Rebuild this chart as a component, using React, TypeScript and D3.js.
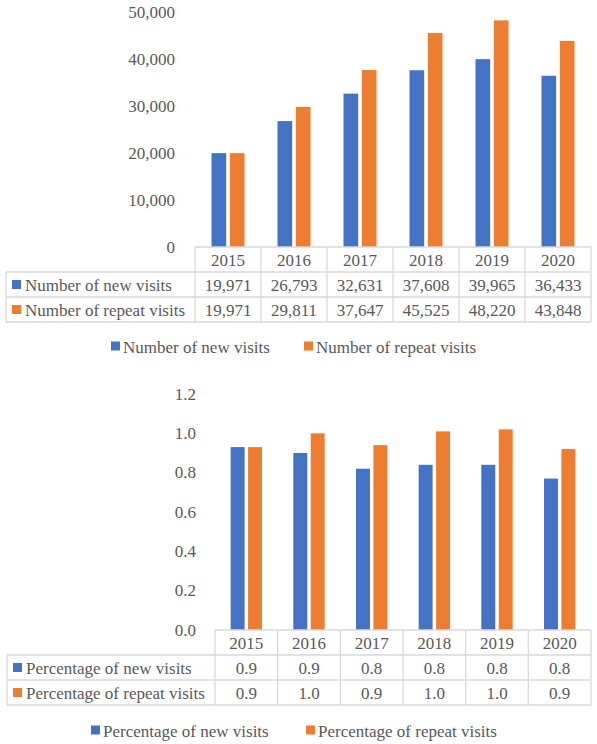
import React from "react";
import * as d3 from "d3";

const years = ["2015", "2016", "2017", "2018", "2019", "2020"];
const newVisits = [19971, 26793, 32631, 37608, 39965, 36433];
const repeatVisits = [19971, 29811, 37647, 45525, 48220, 43848];
const countTicks = [0, 10000, 20000, 30000, 40000, 50000];
const countSeries = ["Number of new visits", "Number of repeat visits"];

const pctNew = [0.93, 0.9, 0.82, 0.84, 0.84, 0.77];
const pctRepeat = [0.93, 1.0, 0.94, 1.01, 1.02, 0.92];
const pctNewLabels = ["0.9", "0.9", "0.8", "0.8", "0.8", "0.8"];
const pctRepeatLabels = ["0.9", "1.0", "0.9", "1.0", "1.0", "0.9"];
const pctTicks = [0, 0.2, 0.4, 0.6, 0.8, 1.0, 1.2];
const pctSeries = ["Percentage of new visits", "Percentage of repeat visits"];

const COLORS = ["#4472C4", "#ED7D31"];
const TEXT = "#595959";
const GRID = "#d9d9d9";
const FONT = '"Liberation Serif", Tinos, "Times New Roman", "DejaVu Serif", serif';
const FS = 17;
const textStyle: React.CSSProperties = { fontFamily: FONT, fontSize: FS };

type ChartProps = {
  series: number[][];
  labels: string[][];
  names: string[];
  ticks: number[];
  tickFmt: (v: number) => string;
  yDomain: [number, number];
  yTop: number;
  yBase: number;
  tickRight: number;
  tableLeft: number;
  colLeft: number;
  colRight: number;
  rowH: number[];
  legendY: number;
  legendX: number[];
};

function Chart(p: ChartProps) {
  const x = d3.scaleBand<string>().domain(years).range([p.colLeft, p.colRight]).paddingInner(0).paddingOuter(0);
  const bw = x.bandwidth();
  const inner = d3
    .scaleBand<number>()
    .domain([0, 1])
    .range([bw * 0.25, bw * 0.75])
    .paddingInner(0.2)
    .paddingOuter(0);
  const y = d3.scaleLinear().domain(p.yDomain).range([p.yBase, p.yTop]);
  const rows = [p.yBase, p.yBase + p.rowH[0], p.yBase + p.rowH[0] + p.rowH[1], p.yBase + p.rowH[0] + p.rowH[1] + p.rowH[2]];
  return (
    <g style={textStyle}>
      {p.ticks.map((t) => (
        <text key={t} x={p.tickRight} y={y(t)} textAnchor="end" dominantBaseline="central" fill={TEXT} style={textStyle}>
          {p.tickFmt(t)}
        </text>
      ))}
      {p.series.map((s, si) =>
        s.map((v, i) => (
          <rect
            key={si + "-" + i}
            x={(x(years[i]) as number) + (inner(si) as number)}
            y={y(v)}
            width={inner.bandwidth()}
            height={p.yBase - y(v)}
            fill={COLORS[si]}
          />
        ))
      )}
      <g stroke={GRID} strokeWidth={1.3} fill="none">
        <line x1={p.colLeft} x2={p.colRight} y1={rows[0]} y2={rows[0]} />
        <line x1={p.tableLeft} x2={p.colRight} y1={rows[1]} y2={rows[1]} />
        <line x1={p.tableLeft} x2={p.colRight} y1={rows[2]} y2={rows[2]} />
        <line x1={p.tableLeft} x2={p.colRight} y1={rows[3]} y2={rows[3]} />
        <line x1={p.tableLeft} x2={p.tableLeft} y1={rows[1]} y2={rows[3]} />
        {years.map((yr) => (
          <line key={yr} x1={x(yr)} x2={x(yr)} y1={rows[0]} y2={rows[3]} />
        ))}
        <line x1={p.colRight} x2={p.colRight} y1={rows[0]} y2={rows[3]} />
      </g>
      {years.map((yr) => (
        <text key={yr} x={(x(yr) as number) + bw / 2} y={(rows[0] + rows[1]) / 2 + 1} textAnchor="middle" dominantBaseline="central" fill={TEXT} style={textStyle}>
          {yr}
        </text>
      ))}
      {p.labels.map((row, ri) => (
        <g key={ri}>
          <rect x={p.tableLeft + 6} y={(rows[ri + 1] + rows[ri + 2]) / 2 - 4.5} width={9} height={9} fill={COLORS[ri]} />
          <text x={p.tableLeft + 19} y={(rows[ri + 1] + rows[ri + 2]) / 2 + 1} dominantBaseline="central" fill={TEXT} style={textStyle}>
            {p.names[ri]}
          </text>
          {row.map((lab, i) => (
            <text key={i} x={(x(years[i]) as number) + bw / 2} y={(rows[ri + 1] + rows[ri + 2]) / 2 + 1} textAnchor="middle" dominantBaseline="central" fill={TEXT} style={textStyle}>
              {lab}
            </text>
          ))}
        </g>
      ))}
      {p.names.map((n, i) => (
        <g key={n}>
          <rect x={p.legendX[i]} y={p.legendY - 4.5} width={9} height={9} fill={COLORS[i]} />
          <text x={p.legendX[i] + 12} y={p.legendY + 1} dominantBaseline="central" fill={TEXT} style={textStyle}>
            {n}
          </text>
        </g>
      ))}
    </g>
  );
}

export default function App() {
  const fmtCount = d3.format(",");
  const fmtPct = d3.format(".1f");
  return (
    <svg width={597} height={744} style={{ position: "absolute", left: 0, top: 0, background: "#fff" }}>
      <rect width={597} height={744} fill="#fff" />
      <Chart
        series={[newVisits, repeatVisits]}
        labels={[newVisits.map(fmtCount), repeatVisits.map(fmtCount)]}
        names={countSeries}
        ticks={countTicks}
        tickFmt={(v) => fmtCount(v)}
        yDomain={[0, 50000]}
        yTop={12}
        yBase={247}
        tickRight={175}
        tableLeft={6}
        colLeft={195}
        colRight={591}
        rowH={[25, 25, 25]}
        legendY={346}
        legendX={[111, 304]}
      />
      <Chart
        series={[pctNew, pctRepeat]}
        labels={[pctNewLabels, pctRepeatLabels]}
        names={pctSeries}
        ticks={pctTicks}
        tickFmt={(v) => fmtPct(v)}
        yDomain={[0, 1.2]}
        yTop={394}
        yBase={630}
        tickRight={196}
        tableLeft={7}
        colLeft={215}
        colRight={591}
        rowH={[25, 25, 25]}
        legendY={730}
        legendX={[91, 306]}
      />
    </svg>
  );
}
